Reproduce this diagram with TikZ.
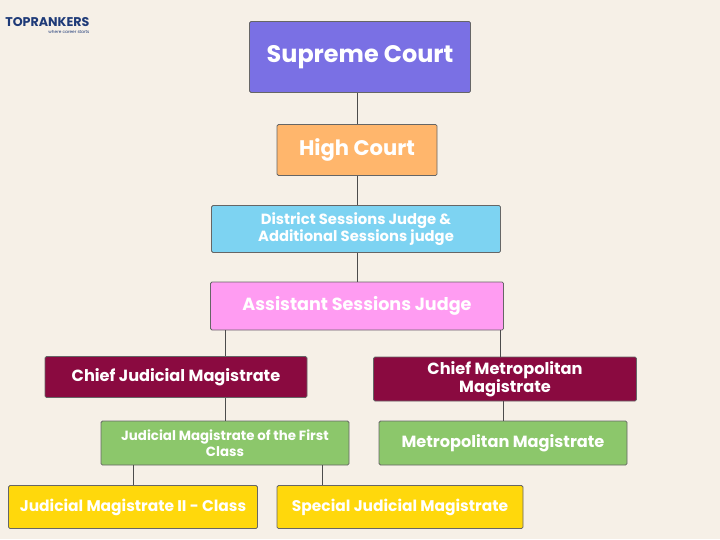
\documentclass[tikz,border=0pt]{standalone}
\usepackage{fontspec}
\setmainfont{Poppins}
\usepackage{xcolor}
\definecolor{bgc}{HTML}{F6F0E7}
\definecolor{scc}{HTML}{7A70E4}
\definecolor{hcc}{HTML}{FFB66C}
\definecolor{dsc}{HTML}{7DD3F2}
\definecolor{asc}{HTML}{FF9CF2}
\definecolor{cmc}{HTML}{8A0A40}
\definecolor{jmc}{HTML}{8CC76B}
\definecolor{ylc}{HTML}{FFD80C}
\definecolor{logoc}{HTML}{1E3A78}
\tikzset{
  box/.style={draw=black!60, line width=0.6pt, rounded corners=1pt, font=\bfseries, text=white, align=center, inner sep=1pt},
}
\begin{document}
\begin{tikzpicture}[x=0.025cm, y=-0.025cm]
  \fill[bgc] (0,0) rectangle (720,539);
  \useasboundingbox (0,0) rectangle (720,539);

  \node[font=\bfseries\fontsize{9}{9}\selectfont, text=logoc, anchor=west, inner sep=0] (logo) at (5,22) {TOPRANKERS};
  \node[font=\fontsize{3}{3}\selectfont, text=logoc, anchor=north east, inner sep=0] (tag) at ([yshift=-2.5pt]logo.south east) {where career starts};

  \node[box, fill=scc, minimum width=221*0.025cm, minimum height=71*0.025cm, font=\bfseries\fontsize{17}{17}\selectfont] (sc) at (360,57) {Supreme Court};
  \node[box, fill=hcc, minimum width=160*0.025cm, minimum height=51*0.025cm, font=\bfseries\fontsize{15}{15}\selectfont] (hc) at (357,150) {High Court};
  \node[box, fill=dsc, minimum width=289*0.025cm, minimum height=47*0.025cm, font=\bfseries\fontsize{10.5}{12}\selectfont] (dsj) at (356,229) {District Sessions Judge \&\\Additional Sessions judge};
  \node[box, fill=asc, minimum width=293*0.025cm, minimum height=48*0.025cm, font=\bfseries\fontsize{12.5}{12.5}\selectfont] (asj) at (357,306) {Assistant Sessions Judge};
  \node[box, fill=cmc, minimum width=262*0.025cm, minimum height=41*0.025cm, font=\bfseries\fontsize{11.5}{11.5}\selectfont] (cjm) at (176,377) {Chief Judicial Magistrate};
  \node[box, fill=cmc, minimum width=263*0.025cm, minimum height=44*0.025cm, font=\bfseries\fontsize{11.5}{12.5}\selectfont] (cmm) at (505,379) {Chief Metropolitan\\Magistrate};
  \node[box, fill=jmc, minimum width=248*0.025cm, minimum height=44*0.025cm, font=\bfseries\fontsize{9.5}{11}\selectfont] (jmf) at (225,443) {Judicial Magistrate of the First\\Class};
  \node[box, fill=jmc, minimum width=248*0.025cm, minimum height=44*0.025cm, font=\bfseries\fontsize{11.5}{11.5}\selectfont] (mm) at (503,443) {Metropolitan Magistrate};
  \node[box, fill=ylc, minimum width=249*0.025cm, minimum height=43*0.025cm, font=\bfseries\fontsize{11}{11}\selectfont] (jm2) at (133,507) {Judicial Magistrate II - Class};
  \node[box, fill=ylc, minimum width=246*0.025cm, minimum height=43*0.025cm, font=\bfseries\fontsize{11}{11}\selectfont] (sjm) at (400,507) {Special Judicial Magistrate};

  \coordinate (cL) at (225,0);
  \coordinate (cR) at (500,0);
  \coordinate (jL) at (133,0);
  \coordinate (jR) at (322,0);

  \draw[black!70] (sc.south -| hc.north) -- (hc.north);
  \draw[black!70] (hc.south) -- (dsj.north -| hc.south);
  \draw[black!70] (dsj.south -| hc.south) -- (asj.north -| hc.south);
  \draw[black!70] (asj.south -| cL) -- (cjm.north -| cL);
  \draw[black!70] (asj.south -| cR) -- (cmm.north -| cR);
  \draw[black!70] (cjm.south -| cL) -- (jmf.north -| cL);
  \draw[black!70] (cmm.south -| mm.north) -- (mm.north);
  \draw[black!70] (jmf.south -| jL) -- (jm2.north -| jL);
  \draw[black!70] (jmf.south -| jR) -- (sjm.north -| jR);
\end{tikzpicture}
\end{document}
